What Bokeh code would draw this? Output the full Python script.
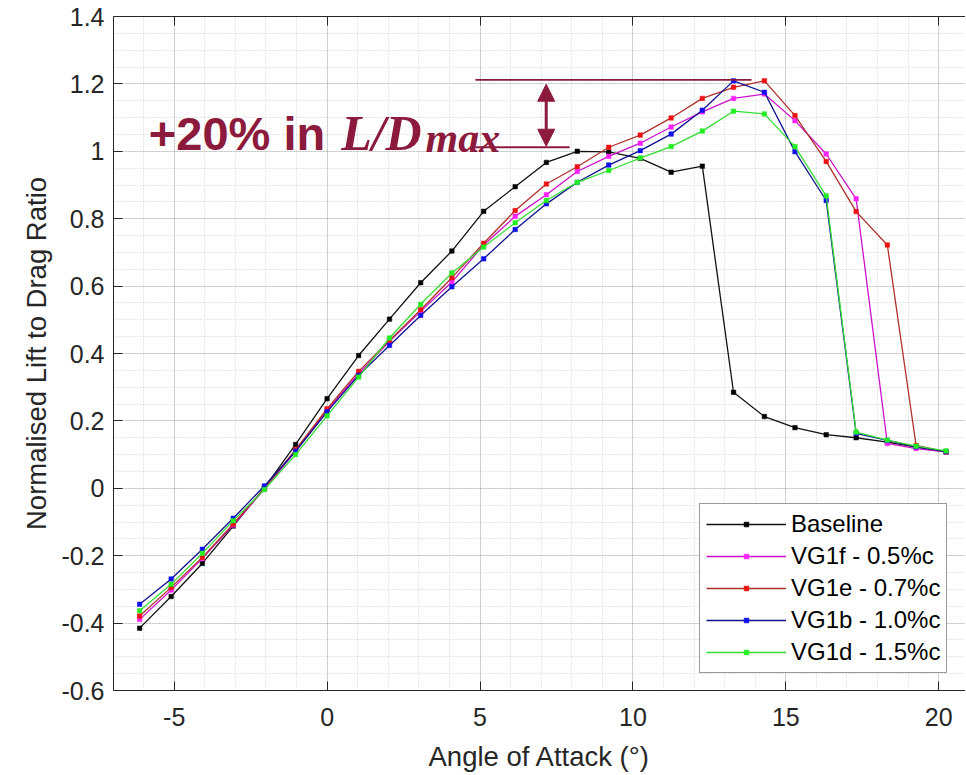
from bokeh.plotting import figure
from bokeh.models import (Range1d, FixedTicker, Legend, LegendItem, Label, Arrow,
                          NormalHead, LinearAxis, ColumnDataSource)
from bokeh.embed import file_html
from bokeh.resources import INLINE

# ---------------- data ----------------
aoa = [-6.13, -5.10, -4.08, -3.07, -2.05, -1.03, 0.00, 1.03, 2.04, 3.06, 4.08, 5.12,
       6.15, 7.17, 8.18, 9.21, 10.24, 11.25, 12.27, 13.29, 14.30, 15.30, 16.32,
       17.30, 18.32, 19.26, 20.24]

baseline = [-0.415, -0.321, -0.223, -0.112, 0.001, 0.130, 0.266, 0.394, 0.502, 0.610,
            0.704, 0.822, 0.895, 0.967, 1.000, 0.998, 0.979, 0.938, 0.956, 0.285,
            0.213, 0.180, 0.159, 0.150, 0.137, 0.122, 0.108]

vg1f = [-0.389, -0.302, -0.208, -0.109, -0.002, 0.110, 0.231, 0.340, 0.436, 0.525,
        0.612, 0.722, 0.807, 0.871, 0.940, 0.985, 1.024, 1.072, 1.117, 1.157,
        1.170, 1.091, 0.992, 0.859, 0.133, 0.118, 0.108]

vg1e = [-0.379, -0.294, -0.205, -0.106, 0.000, 0.115, 0.236, 0.347, 0.439, 0.530,
        0.625, 0.727, 0.824, 0.903, 0.954, 1.012, 1.048, 1.099, 1.157, 1.190,
        1.209, 1.106, 0.970, 0.821, 0.722, 0.127, 0.108]

vg1b = [-0.344, -0.269, -0.181, -0.089, 0.007, 0.110, 0.227, 0.335, 0.424, 0.513,
        0.598, 0.681, 0.768, 0.844, 0.908, 0.959, 1.002, 1.051, 1.122, 1.209,
        1.175, 0.999, 0.854, 0.163, 0.142, 0.123, 0.109]

vg1d = [-0.363, -0.285, -0.193, -0.096, -0.004, 0.100, 0.215, 0.330, 0.446, 0.546,
        0.639, 0.716, 0.788, 0.854, 0.908, 0.943, 0.980, 1.014, 1.060, 1.119,
        1.111, 1.014, 0.868, 0.167, 0.143, 0.125, 0.111]

series_names = ["Baseline", "VG1f - 0.5%c", "VG1e - 0.7%c", "VG1b - 1.0%c", "VG1d - 1.5%c"]

x_ticks = [-5, 0, 5, 10, 15, 20]
x_tick_labels = ["-5", "0", "5", "10", "15", "20"]
y_ticks = [-0.6, -0.4, -0.2, 0.0, 0.2, 0.4, 0.6, 0.8, 1.0, 1.2, 1.4]
y_tick_labels = ["-0.6", "-0.4", "-0.2", "0", "0.2", "0.4", "0.6", "0.8", "1", "1.2", "1.4"]
x_minor = list(range(-7, 22))
y_minor = [round(-0.6 + 0.05 * i, 2) for i in range(41)]

x_title = "Angle of Attack (°)"
y_title = "Normalised Lift to Drag Ratio"

# annotation values
ld_low = 1.012        # baseline L/D max level
ld_high = 1.212       # VG L/D max level
note_text = "+20% in"

# ---------------- styling ----------------
line_colors = ["#111111", "#CC11CC", "#B0302C", "#101090", "#33DD33"]
marker_colors = ["#000000", "#FF22FF", "#EE1111", "#1010EE", "#22EE22"]
ann_color = "#8C1A3C"
axis_color = "#262626"

p = figure(width=965, height=774,
           x_range=Range1d(-6.985, 20.876), y_range=Range1d(-0.6, 1.4),
           output_backend="svg", toolbar_location=None,
           min_border_left=113, min_border_right=0, min_border_top=16,
           min_border_bottom=83)
p.outline_line_color = None
p.background_fill_color = "white"

xt = FixedTicker(ticks=x_ticks, minor_ticks=x_minor)
yt = FixedTicker(ticks=y_ticks, minor_ticks=y_minor)
p.xaxis.ticker = xt
p.yaxis.ticker = yt
p.xaxis.major_label_overrides = dict(zip(x_ticks, x_tick_labels))
p.yaxis.major_label_overrides = dict(zip(y_ticks, y_tick_labels))

for ax in (p.xaxis, p.yaxis):
    ax.major_tick_in = 9
    ax.major_tick_out = 0
    ax.minor_tick_in = 0
    ax.minor_tick_out = 0
    ax.axis_line_color = axis_color
    ax.major_tick_line_color = axis_color
    ax.major_label_text_font = "Liberation Sans"
    ax.major_label_text_font_size = "25px"
    ax.major_label_text_color = axis_color
    ax.axis_label_text_font = "Liberation Sans"
    ax.axis_label_text_font_size = "27.5px"
    ax.axis_label_text_font_style = "normal"
    ax.axis_label_text_color = axis_color

p.xaxis.axis_label = x_title
p.yaxis.axis_label = y_title
p.xaxis.major_label_standoff = 17
p.xaxis.axis_label_standoff = 12
p.yaxis.major_label_standoff = 9
p.yaxis.axis_label_standoff = 6

top_axis = LinearAxis(ticker=FixedTicker(ticks=x_ticks), major_tick_in=9, major_tick_out=0,
                      minor_tick_in=0, minor_tick_out=0, major_label_text_font_size="1px",
                      major_label_text_alpha=0, major_label_standoff=0,
                      axis_line_color=axis_color, major_tick_line_color=axis_color)
p.add_layout(top_axis, "above")

for g in (p.xgrid, p.ygrid):
    g.grid_line_color = "#262626"
    g.grid_line_alpha = 0.15
    g.minor_grid_line_color = "#262626"
    g.minor_grid_line_alpha = 0.22
    g.minor_grid_line_dash = "1 2"
p.xgrid.ticker = xt
p.ygrid.ticker = yt

# ---------------- data marks ----------------
all_series = [baseline, vg1f, vg1e, vg1b, vg1d]
items = []
for name, vals, lc, mc in zip(series_names, all_series, line_colors, marker_colors):
    src = ColumnDataSource(dict(x=aoa, y=vals))
    ln = p.line("x", "y", source=src, line_color=lc, line_width=1.3)
    sc = p.scatter("x", "y", source=src, marker="square", size=4.5,
                   fill_color=mc, line_color=mc, line_width=0.5)
    items.append(LegendItem(label=name, renderers=[ln, sc]))

legend = Legend(items=items, location=(586, 17),
                label_text_font="Liberation Sans", label_text_font_size="24px",
                label_text_color="#000000", border_line_color="#333333",
                border_line_width=1.2, background_fill_color="white",
                background_fill_alpha=1.0, padding=6, spacing=4, margin=0,
                glyph_width=80, glyph_height=12, label_height=24, label_standoff=5)
p.add_layout(legend)

# ---------------- annotation ----------------
p.segment(x0=[4.85, 4.85], y0=[ld_high, ld_low], x1=[13.88, 7.93], y1=[ld_high, ld_low],
          line_color=ann_color, line_width=1.8)
head_kw = dict(size=17, fill_color=ann_color, line_color=ann_color)
p.add_layout(Arrow(start=NormalHead(**head_kw), end=NormalHead(**head_kw),
                   x_start=7.165, y_start=ld_low + 0.003, x_end=7.165, y_end=ld_high - 0.013,
                   line_color=ann_color, line_width=3))

p.add_layout(Label(x=-5.83, y=1.054, text=note_text, text_font="Liberation Sans",
                   text_font_style="bold", text_font_size="47px", text_color=ann_color,
                   text_baseline="alphabetic", text_align="left"))
p.add_layout(Label(x=0.46, y=1.054, text="L/D", text_font="Liberation Serif",
                   text_font_style="bold italic", text_font_size="50px", text_color=ann_color,
                   text_baseline="alphabetic", text_align="left"))
p.add_layout(Label(x=3.22, y=1.040, text="max", text_font="Liberation Serif",
                   text_font_style="bold italic", text_font_size="42px", text_color=ann_color,
                   text_baseline="alphabetic", text_align="left"))

open("out.html", "w").write(file_html(p, INLINE))
